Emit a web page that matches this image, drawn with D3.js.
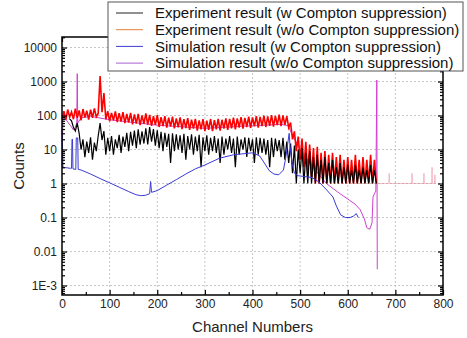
<!DOCTYPE html>
<html>
<head>
<meta charset="utf-8">
<script src="https://cdn.jsdelivr.net/npm/d3@7"></script>
<style>
  body { margin: 0; background: #fff; }
  svg { font-family: "Liberation Sans", Arial, sans-serif; }
</style>
</head>
<body>
<div id="chart"></div>
<script>
// channel ticks and decade ticks
const xTicks = [0, 100, 200, 300, 400, 500, 600, 700, 800];
const yTicks = [1e-3, 0.01, 0.1, 1, 10, 100, 1000, 10000];
const yTickLabels = ["1E-3", "0.01", "0.1", "1", "10", "100", "1000", "10000"];

// Experiment (w/o Compton suppression), every 4th channel from 0
const expWoCounts = [
  82, 135, 74, 150, 90, 128, 78, 160, 85, 142,
  72, 155, 88, 138, 76, 148, 86, 162, 92, 115,
  1450, 125, 460, 78, 135, 68, 120, 72, 132, 64,
  118, 66, 126, 60, 112, 62, 120, 55, 108, 58,
  112, 52, 100, 57, 115, 54, 104, 50, 96, 53,
  102, 46, 90, 49, 96, 44, 86, 47, 92, 42,
  82, 45, 88, 40, 78, 43, 84, 38, 75, 41,
  80, 36, 72, 39, 78, 35, 71, 38, 79, 35,
  73, 39, 80, 36, 75, 41, 83, 38, 79, 42,
  86, 39, 82, 44, 89, 41, 85, 46, 92, 43,
  88, 48, 96, 44, 91, 49, 99, 46, 94, 50,
  103, 47, 98, 52, 107, 49, 101, 53, 96, 44,
  62, 20, 34, 9, 24, 5, 21, 3, 17, 2,
  14, 1.5, 11, 1, 12, 1, 8, 1, 9, 1,
  7, 1, 8, 1, 6, 1, 7, 1, 5, 1,
  6, 1, 5, 1, 7, 1, 5, 1, 6, 1,
  5, 1, 7, 1, 5, 1
];
const expWoChannels = d3.range(0, 661, 4);

// sparse counts beyond the photopeak
const expWoTail = [
  [664, 1], [686, 1], [687, 2], [688, 1], [734, 1], [735, 2], [736, 1],
  [759, 1], [760, 2], [761, 1], [776, 1], [777, 3], [778, 1],
  [782, 1], [783, 1.8], [784, 1]
];

// Experiment (w Compton suppression), every 4th channel from 16
const expWCounts = [
  80, 70, 45, 35, 60, 30, 10, 20, 6, 17,
  8, 23, 5, 16, 9, 25, 60, 19, 35, 7,
  22, 9, 25, 7, 20, 11, 27, 8, 24, 12,
  31, 9, 33, 13, 36, 11, 39, 14, 34, 15,
  42, 14, 46, 17, 40, 13, 37, 11, 33, 9,
  31, 12, 29, 4, 30, 9, 28, 10, 26, 8,
  29, 5, 25, 10, 28, 7, 24, 9, 27, 3,
  23, 9, 26, 7, 22, 9, 25, 8, 21, 4,
  24, 7, 21, 10, 25, 8, 21, 3, 24, 7,
  20, 10, 23, 6, 22, 9, 20, 4, 23, 7,
  22, 8, 21, 7, 19, 3, 22, 6, 21, 9,
  19, 6, 22, 5, 17, 4, 15, 2, 13, 1,
  10, 2, 11, 1, 8, 1, 9, 1, 6, 1,
  7, 1, 5, 1, 6, 1, 4, 1, 5, 1,
  3, 1, 4, 1, 3, 1, 3.5, 1, 2.5, 1,
  3.5, 1, 2.5, 1, 3, 1, 2.5, 1, 3.5, 1,
  2.5, 1
];
const expWChannels = d3.range(16, 661, 4);

// Simulation (w Compton suppression)
const simW = [
  [0, 40], [2, 3], [18, 2.8], [20, 2.8], [21, 20], [22, 20], [23, 2.7],
  [29, 2.6], [30, 22], [33, 22], [34, 2.6], [40, 2.5], [60, 1.9], [80, 1.4],
  [100, 1.05], [120, 0.78], [140, 0.58], [155, 0.47], [165, 0.44], [175, 0.45],
  [184, 0.5], [186, 1.15], [188, 0.55], [200, 0.62], [220, 0.9], [240, 1.3],
  [260, 1.9], [280, 2.7], [300, 3.5], [330, 5.5], [360, 7], [400, 8], [415, 6.5],
  [425, 4], [435, 2.4], [445, 1.9], [455, 1.8], [465, 2.5], [470, 6], [474, 15],
  [477, 30], [479, 12], [483, 4], [488, 2], [495, 1.7], [510, 1.6], [525, 1.5],
  [540, 1.1], [556, 0.64], [569, 0.4], [576, 0.22], [585, 0.12], [595, 0.1],
  [605, 0.1], [612, 0.11], [618, 0.13], [622, 0.1]
];

// Simulation (w/o Compton suppression)
const simWo = [
  [0, 3], [2, 100], [10, 70], [18, 50], [24, 38], [28, 45], [31, 60],
  [32, 1700], [33, 60], [40, 85], [60, 95], [100, 75], [200, 52], [300, 42],
  [400, 50], [460, 55], [475, 50], [482, 30], [500, 10], [520, 4], [540, 1.8],
  [555, 1.0], [570, 0.7], [584, 0.5], [600, 0.35], [615, 0.25], [626, 0.17],
  [635, 0.09], [640, 0.05], [646, 0.045], [651, 0.07], [653, 0.4], [656, 0.5],
  [659, 0.6], [661, 1100], [662, 0.003]
];

const legendLabels = [
  "Experiment result (w Compton suppression)",
  "Experiment result (w/o Compton suppression)",
  "Simulation result (w Compton suppression)",
  "Simulation result (w/o Compton suppression)"
];
const legendColors = ["#222", "#e0803a", "#3c3cd0", "#a860d0"];

const width = 467, height = 338;
const margin = { left: 62, right: 443, top: 37, bottom: 295 };

const svg = d3.select("#chart")
  .append("svg")
  .attr("width", width)
  .attr("height", height);

const x = d3.scaleLinear().domain([0, 800]).range([margin.left, margin.right]);
const y = d3.scaleLog().domain([5.26e-4, 2.04e4]).range([margin.bottom, margin.top]);

// grid
const grid = svg.append("g")
  .attr("stroke", "#b8b8b8")
  .attr("stroke-width", 0.8)
  .attr("stroke-dasharray", "2,2");
grid.selectAll(".gx")
  .data(xTicks.slice(1, -1))
  .join("line")
  .attr("x1", d => x(d)).attr("x2", d => x(d))
  .attr("y1", margin.top).attr("y2", margin.bottom);
grid.selectAll(".gy")
  .data(yTicks)
  .join("line")
  .attr("x1", margin.left).attr("x2", margin.right)
  .attr("y1", d => y(d)).attr("y2", d => y(d));

const line = d3.line()
  .x(d => x(d[0]))
  .y(d => y(d[1]));

const plot = svg.append("g").attr("fill", "none");

plot.append("path")
  .attr("d", line(simWo))
  .attr("stroke", "#d040d0")
  .attr("stroke-width", 1);

plot.append("path")
  .attr("d", line(expWoChannels.map((c, i) => [c, expWoCounts[i]]).filter(d => d[1] != null)))
  .attr("stroke", "#ff0000")
  .attr("stroke-width", 1.6);

plot.append("path")
  .attr("d", line(expWoTail))
  .attr("stroke", "#e87890")
  .attr("stroke-opacity", 0.45)
  .attr("stroke-width", 1);

plot.append("path")
  .attr("d", line(expWChannels.map((c, i) => [c, expWCounts[i]]).filter(d => d[1] != null)))
  .attr("stroke", "#000")
  .attr("stroke-width", 1.2);

plot.append("path")
  .attr("d", line(simW))
  .attr("stroke", "#3a3ad6")
  .attr("stroke-width", 1);

// axes with inward ticks
const minorY = [];
for (let e = -4; e <= 4; e++) {
  for (let m = 2; m <= 9; m++) {
    const v = m * Math.pow(10, e);
    if (v > y.domain()[0] && v < y.domain()[1]) minorY.push(v);
  }
}
const minorX = xTicks.slice(0, -1).map(d => d + 50);

function styleAxis(g) {
  g.select(".domain").remove();
  g.selectAll("line").attr("stroke", "#000").attr("stroke-width", 1.2);
  g.selectAll("text").attr("fill", "#222").style("font-size", "12px");
}

svg.append("g")
  .attr("transform", `translate(0,${margin.bottom})`)
  .call(d3.axisBottom(x).tickValues(xTicks).tickSize(-5).tickPadding(4).tickFormat(d3.format("d")))
  .call(styleAxis);
svg.append("g")
  .attr("transform", `translate(0,${margin.bottom})`)
  .call(d3.axisBottom(x).tickValues(minorX).tickSize(-3).tickFormat(""))
  .call(styleAxis);
svg.append("g")
  .attr("transform", `translate(0,${margin.top})`)
  .call(d3.axisTop(x).tickValues(xTicks).tickSize(-5).tickFormat(""))
  .call(styleAxis);

svg.append("g")
  .attr("transform", `translate(${margin.left},0)`)
  .call(d3.axisLeft(y).tickValues(yTicks).tickSize(-5).tickPadding(5)
    .tickFormat((d, i) => yTickLabels[i]))
  .call(styleAxis);
svg.append("g")
  .attr("transform", `translate(${margin.left},0)`)
  .call(d3.axisLeft(y).tickValues(minorY).tickSize(-3).tickFormat(""))
  .call(styleAxis);
svg.append("g")
  .attr("transform", `translate(${margin.right},0)`)
  .call(d3.axisRight(y).tickValues(yTicks).tickSize(-5).tickFormat(""))
  .call(styleAxis);
svg.append("g")
  .attr("transform", `translate(${margin.right},0)`)
  .call(d3.axisRight(y).tickValues(minorY).tickSize(-3).tickFormat(""))
  .call(styleAxis);

// frame
svg.append("rect")
  .attr("x", margin.left).attr("y", margin.top)
  .attr("width", margin.right - margin.left).attr("height", margin.bottom - margin.top)
  .attr("fill", "none")
  .attr("stroke", "#000")
  .attr("stroke-width", 1.5);

// axis titles
svg.append("text")
  .attr("x", (margin.left + margin.right) / 2)
  .attr("y", 332)
  .attr("text-anchor", "middle")
  .attr("fill", "#222")
  .style("font-size", "15px")
  .text("Channel Numbers");
svg.append("text")
  .attr("transform", `translate(24,${(margin.top + margin.bottom) / 2}) rotate(-90)`)
  .attr("text-anchor", "middle")
  .attr("fill", "#222")
  .style("font-size", "15px")
  .text("Counts");

// legend
const legend = svg.append("g");
legend.append("rect")
  .attr("x", 108).attr("y", 2)
  .attr("width", 355).attr("height", 69)
  .attr("fill", "#fff")
  .attr("stroke", "#555")
  .attr("stroke-width", 1);
const rows = legend.selectAll(".row")
  .data(legendLabels)
  .join("g")
  .attr("transform", (d, i) => `translate(0,${13 + i * 16.7})`);
rows.append("line")
  .attr("x1", 116).attr("x2", 143)
  .attr("stroke", (d, i) => legendColors[i])
  .attr("stroke-width", 1);
rows.append("text")
  .attr("x", 155)
  .attr("dy", "0.35em")
  .attr("fill", "#111")
  .style("font-size", "15px")
  .text(d => d);
</script>
</body>
</html>
